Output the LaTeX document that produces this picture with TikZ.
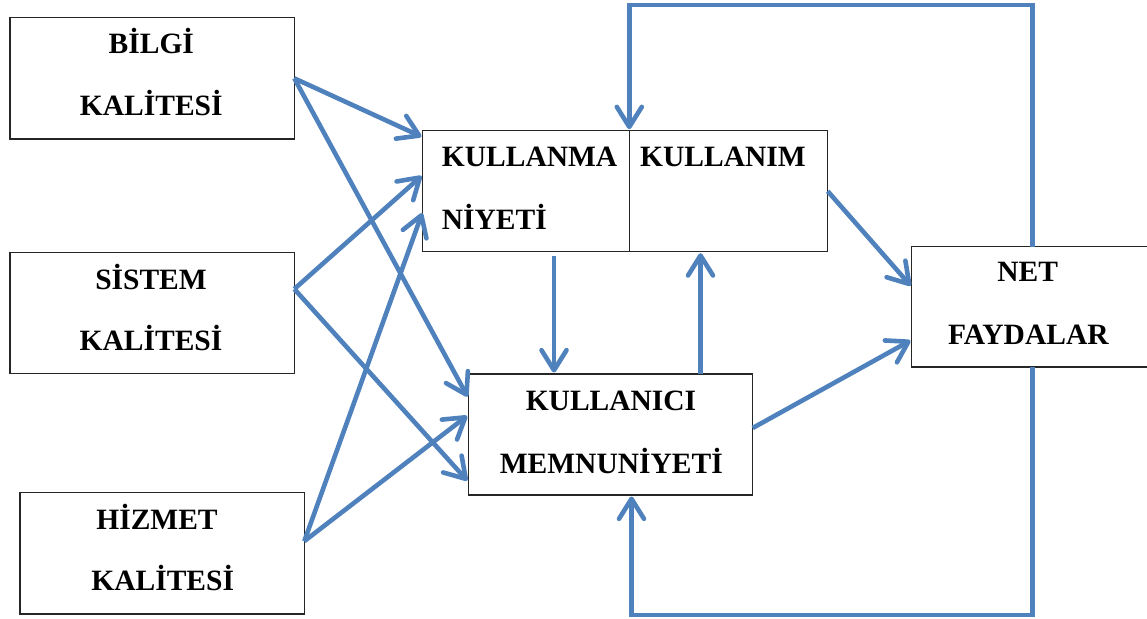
\documentclass[tikz,border=0pt]{standalone}
\usepackage{fontspec}
\setmainfont{Liberation Serif}
\usetikzlibrary{arrows.meta}
\definecolor{arrblue}{HTML}{4F81BD}
\begin{document}
\begin{tikzpicture}[x=1pt,y=-1pt,
  box/.style={draw=black!85,line width=1.4pt,rectangle,inner sep=0pt,outer sep=0pt,anchor=north west},
  lbl/.style={font=\fontsize{29.5}{31}\selectfont\bfseries,inner sep=0pt,anchor=base},
  lbll/.style={lbl,anchor=base west},
  arr/.style={draw=arrblue,line width=4.6pt,line join=miter,shorten >=1.5pt,
    -{Straight Barb[length=20pt,width=25pt,round]}}]
\useasboundingbox (0,0) rectangle (1147,618);

% boxes
\node[box,minimum width=284.3pt,minimum height=121.3pt] (bilgi) at (10,17.7) {};
\node[box,minimum width=284.3pt,minimum height=121pt] (sistem) at (10,252.3) {};
\node[box,minimum width=284.3pt,minimum height=121.7pt] (hizmet) at (20,492.3) {};
\node[box,minimum width=206.6pt,minimum height=121pt] (kn1) at (422.7,130.7) {};
\node[box,minimum width=198.4pt,minimum height=121pt] (kn2) at (629.3,130.7) {};
\node[box,minimum width=284.4pt,minimum height=121pt] (km) at (468.3,374) {};
\node[box,minimum width=240pt,minimum height=120.3pt] (net) at (911.7,246.7) {};

% labels
\node[lbl] (t1a) at (151.3,53.3) {BİLGİ};
\node[lbl] (t1b) at (151.3,115) {KALİTESİ};
\node[lbl] (t2a) at (151,289) {SİSTEM};
\node[lbl] (t2b) at (151,350.7) {KALİTESİ};
\node[lbl] (t3a) at (157,529) {HİZMET};
\node[lbl] (t3b) at (162.7,590.7) {KALİTESİ};
\node[lbll] (t4a) at (441.7,166.7) {KULLANMA};
\node[lbll] (t4b) at (441.7,229.3) {NİYETİ};
\node[lbll] (t5) at (640,166.7) {KULLANIM};
\node[lbl] (t6a) at (611,410.7) {KULLANICI};
\node[lbl] (t6b) at (611.3,473.3) {MEMNUNİYETİ};
\node[lbl] (t7a) at (1027.7,281) {NET};
\node[lbl] (t7b) at (1028.3,344) {FAYDALAR};

% connectors from quality boxes
\draw[arr] (bilgi.east) -- ([yshift=54pt]kn1.west);
\draw[arr] (bilgi.east) -- ([yshift=36.5pt]km.west);
\draw[arr] ([yshift=23.8pt]sistem.east) -- ([yshift=16.2pt]kn1.west);
\draw[arr] ([yshift=23.8pt]sistem.east) -- ([yshift=-47.2pt]km.west);
\draw[arr] ([yshift=12pt]hizmet.east) -- ([yshift=-20.5pt]kn1.west);
\draw[arr] ([yshift=12pt]hizmet.east) -- ([yshift=19.5pt]km.west);

% middle
\draw[arr] ([xshift=28pt,yshift=-4pt]kn1.south) -- ([xshift=-56.5pt]km.north);
\draw[arr] ([xshift=90pt]km.north) -- ([xshift=-28pt]kn2.south);
\draw[arr] (kn2.east) -- ([yshift=20pt]net.west);
\draw[arr] ([yshift=6.5pt]km.east) -- ([yshift=-33pt]net.west);

% feedback loops
\draw[arr] ([xshift=0.8pt]net.north) -- ++(0,-241.7) -| (kn1.north east);
\draw[arr] ([xshift=0.8pt]net.south) -- ++(0,248) -| ([xshift=21pt]km.south);
\end{tikzpicture}
\end{document}
